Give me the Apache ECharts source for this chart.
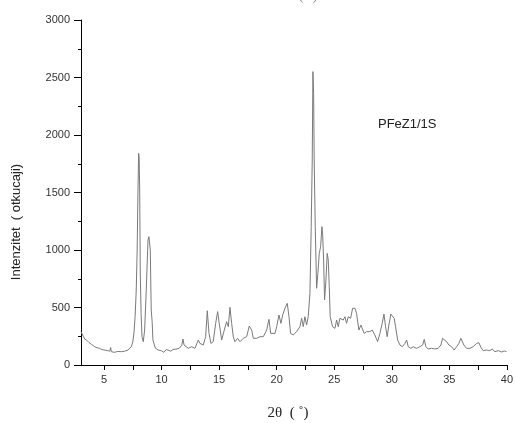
<!DOCTYPE html>
<html>
<head>
<meta charset="utf-8">
<script src="https://cdn.jsdelivr.net/npm/echarts@6/dist/echarts.min.js"></script>
<style>
html,body{margin:0;padding:0;background:#fff;}
#chart{width:516px;height:423px;}
</style>
</head>
<body>
<div id="chart"></div>
<script>
// 2θ positions (degrees)
var twoTheta = [3.00,3.09,3.2,3.32,3.5,3.7,3.9,4.19,4.4,4.6,4.8,5.06,5.3,5.5,5.58,5.63,5.9,6.2,6.5,6.8,7.08,7.2,7.37,7.5,7.6,7.7,7.8,7.88,7.95,8.01,8.05,8.1,8.15,8.22,8.3,8.41,8.53,8.67,8.82,8.9,9.02,9.1,9.12,9.18,9.25,9.45,9.7,9.97,10.2,10.4,10.56,10.8,11.0,11.14,11.35,11.57,11.75,11.86,11.95,12.03,12.32,12.61,12.9,13.19,13.33,13.62,13.83,13.97,14.12,14.29,14.49,14.7,14.87,15.01,15.22,15.45,15.65,15.8,15.94,16.09,16.23,16.37,16.61,16.81,17.1,17.39,17.62,17.83,17.97,18.26,18.55,18.84,19.13,19.33,19.48,19.65,19.85,20.0,20.2,20.37,20.52,20.72,20.92,21.07,21.21,21.44,21.73,22.02,22.17,22.31,22.45,22.6,22.74,22.89,23.0,23.09,23.15,23.21,23.26,23.35,23.47,23.58,23.7,23.82,23.93,23.99,24.08,24.16,24.28,24.39,24.48,24.57,24.65,24.86,25.06,25.21,25.35,25.49,25.64,25.78,25.93,26.07,26.22,26.42,26.6,26.8,26.94,27.03,27.14,27.32,27.43,27.6,27.81,28.1,28.3,28.53,28.77,28.97,29.17,29.32,29.46,29.6,29.75,29.92,30.07,30.21,30.33,30.51,30.71,30.91,31.14,31.29,31.43,31.66,31.86,32.15,32.44,32.68,32.82,32.96,33.16,33.46,33.74,34.03,34.27,34.41,34.56,34.76,34.96,35.2,35.42,35.63,35.83,36.0,36.12,36.26,36.5,36.79,37.07,37.37,37.57,37.74,37.94,38.24,38.52,38.72,38.96,39.25,39.54,39.77,39.97];
// intensity (counts)
var intensity = [290,278,250,226,215,195,180,159,150,145,135,130,125,120,152,116,110,118,116,120,130,140,159,200,278,420,652,1000,1522,1841,1800,1522,800,450,246,203,304,652,1087,1116,1000,478,480,380,217,148,130,125,110,135,130,120,135,130,140,148,170,226,175,174,145,159,145,217,188,174,246,472,275,188,203,362,464,362,217,304,377,333,501,362,246,203,232,203,232,246,339,304,232,232,246,246,304,397,275,290,275,333,435,362,435,493,536,420,275,261,290,333,406,333,420,348,420,623,1203,1783,2551,2362,1783,1203,667,797,971,1029,1203,1145,913,565,739,971,913,681,420,333,319,391,333,406,420,391,420,362,420,406,493,493,449,435,304,348,362,275,290,290,304,261,203,275,362,443,333,246,348,443,455,406,333,217,174,159,188,217,159,145,159,145,159,174,223,159,139,145,139,145,174,232,217,203,174,159,130,159,188,232,232,174,145,145,159,188,194,154,125,130,125,139,116,125,113,122,116];
var xTicks = [5,7.5,10,12.5,15,17.5,20,22.5,25,27.5,30,32.5,35,37.5,40];
var xLabels = [5,10,15,20,25,30,35,40];
var sampleLabel = 'PFeZ1/1S';
var yName = 'Intenzitet  ( otkucaji)';
var xName = '2θ  ( ˚)';

var data = twoTheta.map(function(t,i){return [t,intensity[i]];});
var chart = echarts.init(document.getElementById('chart'),null,{renderer:'canvas'});
chart.setOption({
  animation:false,
  backgroundColor:'#fff',
  grid:{left:81,right:9,top:20,bottom:58},
  xAxis:{
    type:'value',min:3,max:40,
    axisLine:{show:true,onZero:false,lineStyle:{color:'#000',width:1}},
    axisTick:{show:true,inside:false,length:5,customValues:xTicks,lineStyle:{color:'#000'}},
    axisLabel:{customValues:xLabels,margin:9,color:'#333',fontSize:11,fontFamily:'Liberation Sans, Arial, sans-serif',formatter:function(v){return String(v);}},
    splitLine:{show:false}
  },
  yAxis:{
    type:'value',min:0,max:3000,interval:500,
    axisLine:{show:true,lineStyle:{color:'#000',width:1}},
    axisTick:{show:true,inside:false,length:7,lineStyle:{color:'#000'}},
    minorTick:{show:true,splitNumber:2,length:3,lineStyle:{color:'#000'}},
    axisLabel:{margin:11,color:'#333',fontSize:11,fontFamily:'Liberation Sans, Arial, sans-serif',formatter:function(v){return String(v);}},
    splitLine:{show:false}
  },
  series:[{
    type:'line',data:data,showSymbol:false,symbol:'none',
    lineStyle:{color:'#7a7a7a',width:1},
    clip:true
  }],
  graphic:[
    {type:'text',left:378,top:118,style:{text:sampleLabel,fill:'#222',fontSize:13,fontFamily:'Liberation Sans, Arial, sans-serif'}},
    {type:'text',x:288,y:413,style:{text:xName,fill:'#222',fontSize:15,fontFamily:'Liberation Serif, Times New Roman, serif',align:'center',verticalAlign:'middle'}},
    {type:'text',x:16,y:222,rotation:Math.PI/2,style:{text:yName,fill:'#222',fontSize:13,fontFamily:'Liberation Sans, Arial, sans-serif',align:'center',verticalAlign:'middle'}},
    {type:'text',x:297,y:4,style:{text:xName,fill:'#999',fontSize:15,fontFamily:'Liberation Serif, Times New Roman, serif',align:'center',verticalAlign:'bottom'}}
  ]
});
</script>
</body>
</html>
